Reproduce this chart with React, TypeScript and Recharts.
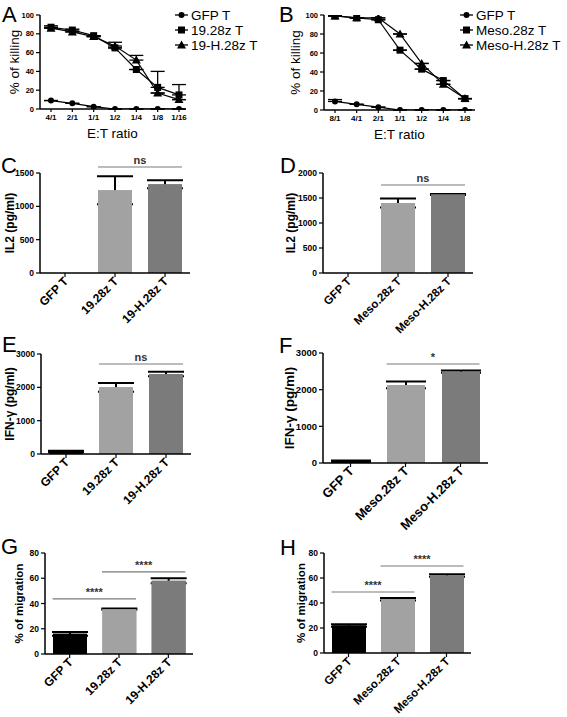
import React from 'react';
import { LineChart, Line, BarChart, Bar, Cell, XAxis, YAxis, ErrorBar, Legend, ReferenceLine } from 'recharts';

const FONT = '"Liberation Sans", Arial, Helvetica, sans-serif';

// ---- A: killing, CD19 ----
const ratiosA = ['4/1', '2/1', '1/1', '1/2', '1/4', '1/8', '1/16'];
const namesA = ['GFP T', '19.28z T', '19-H.28z T'];
const gfpA = [9, 6, 2.5, 0, 0, 0, 0];
const cd19A = [87, 84, 78, 65, 42, 23, 15];
const cd19hA = [86, 82, 77, 67, 52, 17, 10];
const gfpErrA = [[0, 0], [0, 0], [0, 0], [0, 0], [0, 0], [0, 0], [0, 0]];
const cd19ErrA = [[0, 1.5], [0, 1], [0, 0], [0, 0], [0, 0], [0, 17], [0, 11]];
const cd19hErrA = [[0, 0], [0, 0], [0, 0], [0, 4], [0, 5], [0, 0], [0, 0]];

// ---- B: killing, mesothelin ----
const ratiosB = ['8/1', '4/1', '2/1', '1/1', '1/2', '1/4', '1/8'];
const namesB = ['GFP T', 'Meso.28z T', 'Meso-H.28z T'];
const gfpB = [9, 6, 3, 0, 0, 0, 0];
const mesoB = [99, 97, 95, 63, 43, 31, 12];
const mesohB = [99, 97, 97, 80, 49, 27, 12];
const gfpErrB = [[0, 2], [0, 0], [0, 0], [0, 0], [0, 0], [0, 0], [0, 0]];
const mesoErrB = [[0, 0], [0, 0], [0, 0], [0, 0], [0, 0], [0, 0], [0, 0]];
const mesohErrB = [[0, 0], [0, 0], [0, 0], [0, 0], [0, 0], [0, 0], [0, 0]];

const killTicks = [0, 20, 40, 60, 80, 100];
const MARKERS = ['circle', 'square', 'triangle'];

// ---- bar panels ----
const groups19 = ['GFP T', '19.28z T', '19-H.28z T'];
const groupsMeso = ['GFP T', 'Meso.28z T', 'Meso-H.28z T'];
const il2C = [0, 1240, 1330];
const il2ErrC = [0, 210, 60];
const il2D = [0, 1400, 1570];
const il2ErrD = [0, 90, 10];
const ifnE = [80, 2000, 2400];
const ifnErrE = [20, 130, 70];
const ifnF = [50, 2130, 2490];
const ifnErrF = [20, 90, 30];
const migG = [16, 35.5, 58];
const migErrG = [1.5, 0.5, 2];
const migH = [22, 43, 62];
const migErrH = [1, 1, 1];

// significance brackets: from group index to group index, at height y
const sigC = [{ from: 1, to: 2, y: 1590, text: 'ns' }];
const sigD = [{ from: 1, to: 2, y: 1760, text: 'ns' }];
const sigE = [{ from: 1, to: 2, y: 2700, text: 'ns' }];
const sigF = [{ from: 1, to: 2, y: 2700, text: '*' }];
const sigG = [{ from: 0, to: 1, y: 43.6, text: '****' }, { from: 1, to: 2, y: 65, text: '****' }];
const sigH = [{ from: 0, to: 1, y: 48.8, text: '****' }, { from: 1, to: 2, y: 69.6, text: '****' }];

const BAR_COLORS = ['#000000', '#a2a2a2', '#7b7b7b'];

const Marker = ({ cx, cy, shape }: any) => {
  if (shape === 'circle') return <circle cx={cx} cy={cy} r={3} fill="#000" />;
  if (shape === 'square') return <rect x={cx - 3.5} y={cy - 3.5} width={7} height={7} fill="#000" />;
  return <path d={`M${cx},${cy - 4.5}L${cx + 4.5},${cy + 3.5}L${cx - 4.5},${cy + 3.5}Z`} fill="#000" />;
};

const yTitle = (text: string, d: number, size: number, bold: boolean) => (p: any) => {
  const { x, y, width, height } = p.viewBox;
  const cx = x + width - d;
  const cy = y + height / 2;
  return (
    <text x={cx} y={cy} transform={`rotate(-90 ${cx} ${cy})`} textAnchor="middle" dominantBaseline="central"
      fontSize={size} fontWeight={bold ? 'bold' : 'normal'} fill="#000" fontFamily={FONT}>{text}</text>
  );
};

const xTitle = (text: string) => (p: any) => {
  const { x, y, width } = p.viewBox;
  return <text x={x + width / 2} y={y + 29} textAnchor="middle" fontSize={13.5} fill="#000" fontFamily={FONT}>{text}</text>;
};

const rotTick = (size: number) => (p: any) => (
  <g transform={`translate(${p.x + 4},${p.y + 3})`}>
    <text textAnchor="end" transform="rotate(-45)" fontSize={size} fontWeight="bold" fill="#000" fontFamily={FONT}>
      {p.payload.value}
    </text>
  </g>
);

const KillLegend = ({ names }: { names: string[] }) => (
  <div style={{ fontFamily: FONT, fontSize: 13.5, color: '#000' }}>
    {names.map((n, i) => (
      <div key={n} style={{ display: 'flex', alignItems: 'center', height: 15, whiteSpace: 'nowrap' }}>
        <svg width={15} height={10}>
          <line x1={1} x2={14} y1={5} y2={5} stroke="#000" strokeWidth={1.3} />
          <Marker cx={7.5} cy={5} shape={MARKERS[i]} />
        </svg>
        <span style={{ marginLeft: 2 }}>{n}</span>
      </div>
    ))}
  </div>
);

const LinePanel = ({ left, top, width, height, margin, padding, d, ratios, names, series, errs, legendLeft }: any) => {
  const data = ratios.map((r: string, i: number) => ({
    ratio: r,
    s0: series[0][i], e0: errs[0][i],
    s1: series[1][i], e1: errs[1][i],
    s2: series[2][i], e2: errs[2][i],
  }));
  return (
    <div style={{ position: 'absolute', left, top }}>
      <LineChart width={width} height={height} data={data} margin={margin}>
        <XAxis dataKey="ratio" padding={padding} interval={0} height={35} tickSize={3}
          axisLine={{ stroke: '#000', strokeWidth: 1.5 }} tickLine={{ stroke: '#000', strokeWidth: 1.2 }}
          tick={{ fontSize: 8, fontWeight: 'bold', fill: '#000', fontFamily: FONT }} label={xTitle('E:T ratio')} />
        <YAxis width={30} domain={[0, 100]} ticks={killTicks} interval={0} tickSize={4} allowDataOverflow
          axisLine={{ stroke: '#000', strokeWidth: 1.5 }} tickLine={{ stroke: '#000', strokeWidth: 1.2 }}
          tick={{ fontSize: 7.5, fontWeight: 'bold', fill: '#000', fontFamily: FONT }}
          label={yTitle('% of killing', d, 13.5, false)} />
        {[0, 1, 2].map((k) => (
          <Line key={k} dataKey={`s${k}`} name={names[k]} stroke="#000" strokeWidth={1.2} isAnimationActive={false}
            dot={(p: any) => <Marker key={`m${k}-${p.index}`} cx={p.cx} cy={p.cy} shape={MARKERS[k]} />}>
            <ErrorBar dataKey={`e${k}`} width={7} stroke="#000" strokeWidth={1.3} direction="y" />
          </Line>
        ))}
        <Legend layout="vertical" align="center" verticalAlign="middle"
          wrapperStyle={{ left: legendLeft, top: 7.5, width: 'auto' }}
          content={() => <KillLegend names={names} />} />
      </LineChart>
    </div>
  );
};

const BarPanel = ({ left, top, width, height, margin, xh, yw, d, domain, ticks, groups, values, errs, sig,
  title, titleSize, yTickSize, xTickSize, barSize, capWidth }: any) => {
  const data = groups.map((g: string, i: number) => ({ name: g, value: values[i], err: errs[i] }));
  const half = barSize / 2;
  return (
    <div style={{ position: 'absolute', left, top }}>
      <BarChart width={width} height={height} data={data} margin={margin} barGap={-barSize}>
        <XAxis dataKey="name" interval={0} height={xh} tickSize={4} tick={rotTick(xTickSize)}
          axisLine={{ stroke: '#000', strokeWidth: 1.5 }} tickLine={{ stroke: '#000', strokeWidth: 1.2 }} />
        <YAxis width={yw} domain={domain} ticks={ticks} interval={0} tickSize={4} allowDataOverflow
          axisLine={{ stroke: '#000', strokeWidth: 1.5 }} tickLine={{ stroke: '#000', strokeWidth: 1.2 }}
          tick={{ fontSize: yTickSize, fontWeight: 'bold', fill: '#000', fontFamily: FONT }}
          label={yTitle(title, d, titleSize, true)} />
        {/* error bar series sits underneath; the overlaid copy hides the lower whisker */}
        <Bar dataKey="value" barSize={barSize} isAnimationActive={false}>
          {data.map((_: any, i: number) => (
            <Cell key={`c${i}`} fill={BAR_COLORS[i]} />
          ))}
          <ErrorBar dataKey="err" width={capWidth} stroke="#000" strokeWidth={2} direction="y" zIndex={250} />
        </Bar>
        <Bar dataKey="value" barSize={barSize} isAnimationActive={false} legendType="none">
          {data.map((_: any, i: number) => (
            <Cell key={`o${i}`} fill={BAR_COLORS[i]} />
          ))}
        </Bar>
        {sig.map((s: any, i: number) => (
          <ReferenceLine key={`s${i}`} ifOverflow="visible"
            segment={[{ x: groups[s.from], y: s.y }, { x: groups[s.to], y: s.y }]}
            shape={(p: any) => (
              <line x1={p.x1 - half} y1={p.y1} x2={p.x2 + half} y2={p.y2} stroke="#7a7a7a" strokeWidth={1.2} />
            )}
            label={{ value: s.text, position: 'top', offset: 3, fill: '#333', fontSize: 11, fontWeight: 'bold', fontFamily: FONT }} />
        ))}
      </BarChart>
    </div>
  );
};

const LETTERS = [
  { t: 'A', x: 2, y: 22 }, { t: 'B', x: 279, y: 22 },
  { t: 'C', x: 1, y: 173 }, { t: 'D', x: 280, y: 173 },
  { t: 'E', x: 2, y: 352 }, { t: 'F', x: 279, y: 353 },
  { t: 'G', x: 1, y: 554 }, { t: 'H', x: 280, y: 555 },
];

export default function App() {
  return (
    <div style={{ position: 'absolute', left: 0, top: 0, width: 567, height: 717, background: '#fff', overflow: 'hidden' }}>
      <LinePanel left={0} top={0} width={283} height={150} margin={{ top: 15, right: 98, bottom: 6, left: 10 }}
        padding={{ left: 11, right: 6 }} d={26} ratios={ratiosA} names={namesA}
        series={[gfpA, cd19A, cd19hA]} errs={[gfpErrA, cd19ErrA, cd19hErrA]} legendLeft={174} />
      <LinePanel left={283} top={0} width={284} height={150} margin={{ top: 15, right: 92, bottom: 5, left: 11 }}
        padding={{ left: 11, right: 10 }} d={29} ratios={ratiosB} names={namesB}
        series={[gfpB, mesoB, mesohB]} errs={[gfpErrB, mesoErrB, mesohErrB]} legendLeft={176} />

      <BarPanel left={0} top={150} width={283} height={190} margin={{ top: 23, right: 93, bottom: 7, left: 5 }}
        xh={60} yw={35} d={30} domain={[0, 1500]} ticks={[0, 500, 1000, 1500]} groups={groups19}
        values={il2C} errs={il2ErrC} sig={sigC} title="IL2 (pg/ml)" titleSize={12} yTickSize={8.5}
        xTickSize={12} barSize={34} capWidth={18} />
      <BarPanel left={283} top={150} width={284} height={190} margin={{ top: 23, right: 94, bottom: 7, left: 5 }}
        xh={60} yw={35} d={32} domain={[0, 2000]} ticks={[0, 500, 1000, 1500, 2000]} groups={groupsMeso}
        values={il2D} errs={il2ErrD} sig={sigD} title="IL2 (pg/ml)" titleSize={12} yTickSize={8.5}
        xTickSize={11.5} barSize={34} capWidth={18} />

      <BarPanel left={0} top={340} width={283} height={180} margin={{ top: 14, right: 92, bottom: 6, left: 5 }}
        xh={60} yw={36} d={31} domain={[0, 3000]} ticks={[0, 1000, 2000, 3000]} groups={groups19}
        values={ifnE} errs={ifnErrE} sig={sigE} title="IFN-γ (pg/ml)" titleSize={12} yTickSize={8.5}
        xTickSize={12} barSize={34} capWidth={18} />
      <BarPanel left={283} top={340} width={284} height={200} margin={{ top: 13, right: 79, bottom: 7, left: 4 }}
        xh={70} yw={36} d={34} domain={[0, 3000]} ticks={[0, 1000, 2000, 3000]} groups={groupsMeso}
        values={ifnF} errs={ifnErrF} sig={sigF} title="IFN-γ (pg/ml)" titleSize={13.5} yTickSize={9.5}
        xTickSize={13} barSize={38} capWidth={20} />

      <BarPanel left={0} top={520} width={283} height={197} margin={{ top: 33, right: 90, bottom: 3, left: 10 }}
        xh={60} yw={35} d={26} domain={[0, 80]} ticks={[0, 20, 40, 60, 80]} groups={groups19}
        values={migG} errs={migErrG} sig={sigG} title="% of migration" titleSize={11.5} yTickSize={8.5}
        xTickSize={12} barSize={34} capWidth={18} />
      <BarPanel left={283} top={520} width={284} height={197} margin={{ top: 33, right: 96, bottom: 4, left: 6 }}
        xh={60} yw={35} d={23} domain={[0, 80]} ticks={[0, 20, 40, 60, 80]} groups={groupsMeso}
        values={migH} errs={migErrH} sig={sigH} title="% of migration" titleSize={11.5} yTickSize={8.5}
        xTickSize={11.5} barSize={34} capWidth={18} />

      <svg width={567} height={717} style={{ position: 'absolute', left: 0, top: 0, pointerEvents: 'none' }}>
        {LETTERS.map((l) => (
          <text key={l.t} x={l.x} y={l.y} fontSize={22} fill="#000" fontFamily={FONT}>{l.t}</text>
        ))}
      </svg>
    </div>
  );
}
